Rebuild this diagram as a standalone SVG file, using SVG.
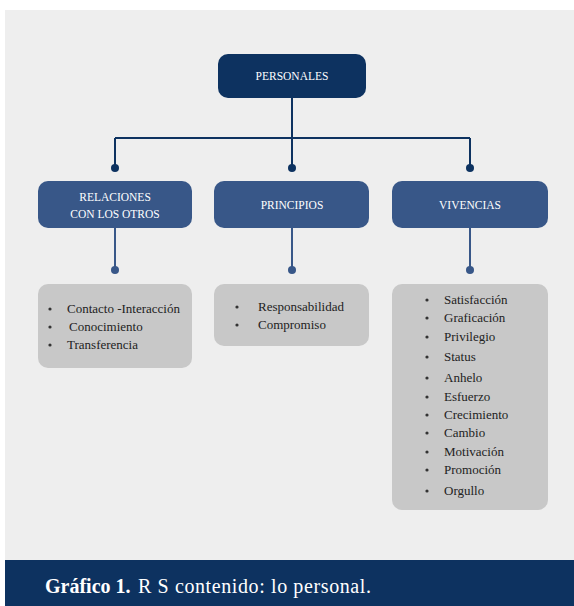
<svg xmlns="http://www.w3.org/2000/svg" width="574" height="606" viewBox="0 0 574 606">
<style>
.hdr{font-family:"Liberation Serif","DejaVu Serif",serif;font-size:11.5px;fill:#ffffff;text-anchor:middle}
.item{font-family:"Liberation Serif","DejaVu Serif",serif;font-size:13px;fill:#222222}
.cap{font-family:"Liberation Serif","DejaVu Serif",serif;font-size:20px;fill:#ffffff}
.bul{fill:#333333}
.dark{fill:#0d3260}
.mid{fill:#385788}
.list{fill:#c8c8c8}
.ln{stroke:#0d3260;stroke-width:2;fill:none}
.ln2{stroke:#385788;stroke-width:2;fill:none}
</style>
<rect x="0" y="0" width="574" height="606" fill="#ffffff"/>
<rect x="5" y="10" width="569" height="550" fill="#eeeeee"/>
<g id="connectors">
<path class="ln" d="M292 98V138M115 138H470M115 138V168M292 138V168M470 138V168"/>
<circle cx="115" cy="168" r="4" class="dark"/>
<circle cx="292" cy="168" r="4" class="dark"/>
<circle cx="470" cy="168" r="4" class="dark"/>
<path class="ln2" d="M115 228V270M292 228V270M470 228V270"/>
<circle cx="115" cy="270" r="4" class="mid"/>
<circle cx="292" cy="270" r="4" class="mid"/>
<circle cx="470" cy="270" r="4" class="mid"/>
</g>
<g id="personales">
<rect x="218" y="54" width="148" height="44" rx="10" class="dark"/>
<text x="292" y="80" class="hdr">PERSONALES</text>
</g>
<g id="relaciones">
<rect x="38" y="181" width="154" height="47" rx="10" class="mid"/>
<text x="115" y="201" class="hdr">RELACIONES</text>
<text x="115" y="218" class="hdr">CON LOS OTROS</text>
</g>
<g id="principios">
<rect x="214" y="181" width="155" height="47" rx="10" class="mid"/>
<text x="292" y="209" class="hdr">PRINCIPIOS</text>
</g>
<g id="vivencias">
<rect x="392" y="181" width="156" height="47" rx="10" class="mid"/>
<text x="470" y="209" class="hdr">VIVENCIAS</text>
</g>
<g id="lista-relaciones">
<rect x="38" y="284" width="154" height="84" rx="10" class="list"/>
<circle cx="50" cy="309" r="1.6" class="bul"/>
<circle cx="50" cy="327" r="1.6" class="bul"/>
<circle cx="50" cy="345" r="1.6" class="bul"/>
<text x="67" y="313" class="item">Contacto -Interacción</text>
<text x="69" y="331" class="item">Conocimiento</text>
<text x="67" y="349" class="item">Transferencia</text>
</g>
<g id="lista-principios">
<rect x="214" y="284" width="155" height="62" rx="10" class="list"/>
<circle cx="237" cy="307" r="1.6" class="bul"/>
<circle cx="237" cy="325" r="1.6" class="bul"/>
<text x="258" y="311" class="item">Responsabilidad</text>
<text x="258" y="329" class="item">Compromiso</text>
</g>
<g id="lista-vivencias">
<rect x="392" y="284" width="156" height="226" rx="10" class="list"/>
<g class="bul">
<circle cx="427" cy="300" r="1.6"/><circle cx="427" cy="318" r="1.6"/><circle cx="427" cy="337" r="1.6"/>
<circle cx="427" cy="357" r="1.6"/><circle cx="427" cy="378" r="1.6"/><circle cx="427" cy="397" r="1.6"/>
<circle cx="427" cy="415" r="1.6"/><circle cx="427" cy="433" r="1.6"/><circle cx="427" cy="452" r="1.6"/>
<circle cx="427" cy="470" r="1.6"/><circle cx="427" cy="491" r="1.6"/>
</g>
<text x="444" y="304" class="item">Satisfacción</text>
<text x="444" y="322" class="item">Graficación</text>
<text x="444" y="341" class="item">Privilegio</text>
<text x="444" y="361" class="item">Status</text>
<text x="444" y="382" class="item">Anhelo</text>
<text x="444" y="401" class="item">Esfuerzo</text>
<text x="444" y="419" class="item">Crecimiento</text>
<text x="444" y="437" class="item">Cambio</text>
<text x="444" y="456" class="item">Motivación</text>
<text x="444" y="474" class="item">Promoción</text>
<text x="444" y="495" class="item">Orgullo</text>
</g>
<rect x="5" y="560" width="569" height="46" fill="#0d3260"/>
<text x="45" y="593" class="cap"><tspan font-weight="bold">Gráfico 1.</tspan></text>
<text x="138" y="593" class="cap" textLength="233" lengthAdjust="spacing">R S contenido: lo personal.</text>
</svg>
